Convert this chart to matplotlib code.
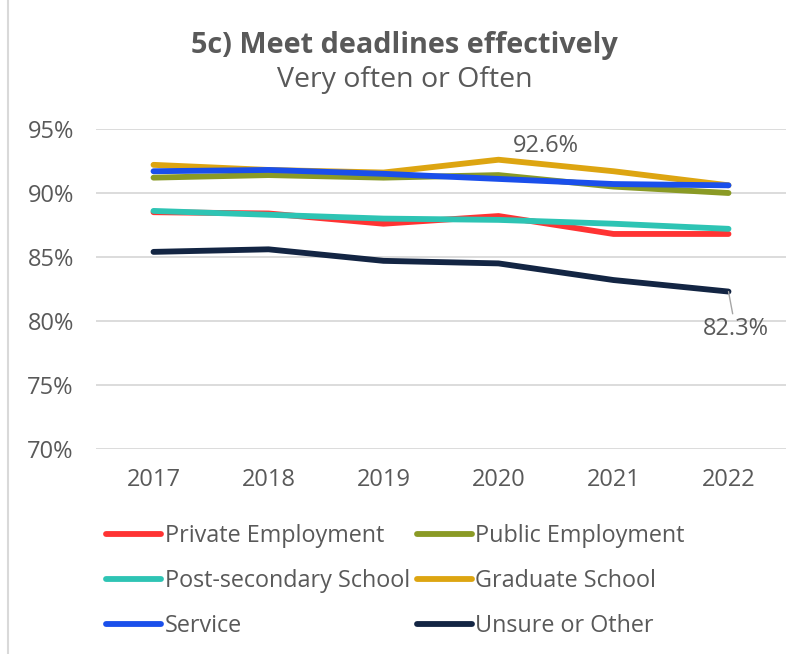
import matplotlib.pyplot as plt
from matplotlib.lines import Line2D

plt.rcParams['font.family'] = ['Open Sans', 'DejaVu Sans']

years = ['2017', '2018', '2019', '2020', '2021', '2022']
private_emp = [88.5, 88.4, 87.6, 88.2, 86.8, 86.8]
public_emp = [91.2, 91.4, 91.2, 91.4, 90.5, 90.0]
post_secondary = [88.6, 88.3, 88.0, 87.9, 87.6, 87.2]
graduate = [92.2, 91.8, 91.6, 92.6, 91.7, 90.6]
service = [91.7, 91.8, 91.5, 91.1, 90.7, 90.6]
unsure = [85.4, 85.6, 84.7, 84.5, 83.2, 82.3]

series = [
    ('Private Employment', private_emp, '#FF3333'),
    ('Public Employment', public_emp, '#8A9A25'),
    ('Post-secondary School', post_secondary, '#2EC4B4'),
    ('Graduate School', graduate, '#DDA511'),
    ('Service', service, '#1A4FEB'),
    ('Unsure or Other', unsure, '#132543'),
]

txt = '#595959'

fig = plt.figure(figsize=(8.09, 6.54), dpi=100)
ax = fig.add_axes([96 / 809, 1 - 449 / 654, 690 / 809, 320 / 654])

x = list(range(len(years)))
lineas = []
for nombre, valores, color in series:
    l, = ax.plot(x, valores, color=color, lw=4.2, solid_capstyle='round', label=nombre)
    lineas.append(l)

ax.set_xlim(-0.5, len(years) - 0.5)
ax.set_ylim(70, 95)
ax.set_yticks([70, 75, 80, 85, 90, 95])
ax.set_yticklabels([f'{v}%' for v in [70, 75, 80, 85, 90, 95]])
ax.set_xticks(x)
ax.set_xticklabels(years)
ax.grid(axis='y', color='#D9D9D9', lw=1.3)
ax.set_axisbelow(True)
for s in ax.spines.values():
    s.set_visible(False)
ax.tick_params(length=0, labelsize=17, labelcolor=txt)
ax.tick_params(axis='y', pad=16)
ax.tick_params(axis='x', pad=14)

# etiquetas de datos
ax.annotate(f'{graduate[3]:.1f}%', (3, graduate[3]), xytext=(34, 1),
            textcoords='offset points', ha='center', va='bottom',
            fontsize=17, color=txt)
ax.annotate(f'{unsure[5]:.1f}%', (5, unsure[5]), xytext=(5, -18),
            textcoords='offset points', ha='center', va='top',
            fontsize=17, color=txt,
            arrowprops=dict(arrowstyle='-', color='#A6A6A6', lw=1,
                            shrinkA=0, shrinkB=0))

fig.text(0.5, 1 - 46 / 654, '5c) Meet deadlines effectively', ha='center',
         va='center', fontsize=20.8, fontweight='bold', color=txt)
fig.text(0.5, 1 - 80 / 654, 'Very often or Often', ha='center',
         va='center', fontsize=20.5, color=txt)

# orden por filas en la leyenda
orden = [0, 2, 4, 1, 3, 5]
leg = ax.legend([lineas[i] for i in orden], [series[i][0] for i in orden],
                loc='upper left', bbox_to_anchor=(97 / 809, 1 - 515 / 654),
                bbox_transform=fig.transFigure, ncol=2, frameon=False,
                fontsize=16.8, handlelength=2.35, handletextpad=0.15,
                columnspacing=0.3, labelspacing=0.9, borderaxespad=0)
for t in leg.get_texts():
    t.set_color(txt)

# borde izquierdo del recuadro
fig.add_artist(Line2D([8 / 809, 8 / 809], [0, 1], color='#D9D9D9', lw=1.5,
                      transform=fig.transFigure))

fig.savefig('out.png', dpi=100)
